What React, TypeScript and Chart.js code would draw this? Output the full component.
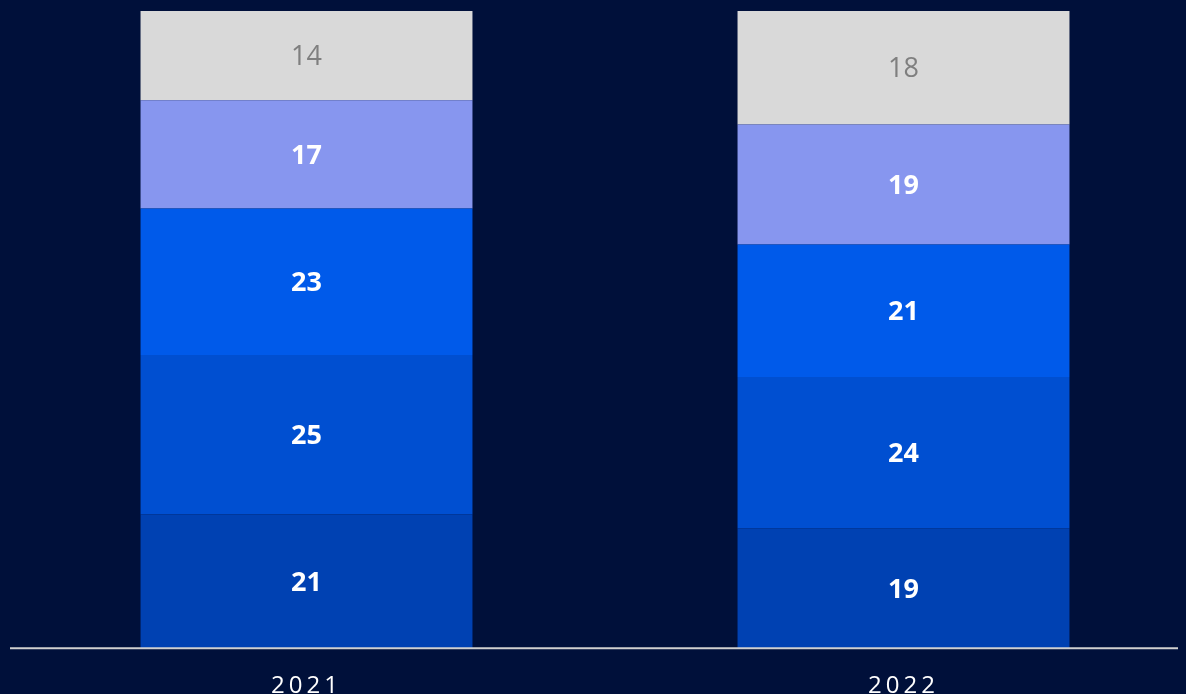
import React, { useEffect, useRef } from "react";
import { Chart, registerables } from "chart.js";

Chart.register(...registerables);

const years = ["2021", "2022"];
const seg1 = [21, 19];
const seg2 = [25, 24];
const seg3 = [23, 21];
const seg4 = [17, 19];
const seg5 = [14, 18];

const segments = [seg1, seg2, seg3, seg4, seg5];
const segColors = ["#0041B2", "#004FD1", "#005AEA", "#8796EF", "#D9D9D9"];
const labelColors = ["#FFFFFF", "#FFFFFF", "#FFFFFF", "#FFFFFF", "#7F7F7F"];
const labelWeights = ["bold", "bold", "bold", "bold", "normal"];

const totals = years.map((_, i) => segments.reduce((s, arr) => s + arr[i], 0));

const labelPlugin = {
  id: "segLabels",
  beforeDraw(chart: any) {
    chart.ctx.letterSpacing = "4px";
  },
  afterDatasetsDraw(chart: any) {
    const ctx = chart.ctx;
    ctx.save();
    ctx.letterSpacing = "0px";
    // axis base line across the full width
    const yb = chart.scales.x.top;
    ctx.strokeStyle = "#D0D0D0";
    ctx.lineWidth = 2;
    ctx.beginPath();
    ctx.moveTo(chart.chartArea.left + 2, yb);
    ctx.lineTo(chart.width, yb);
    ctx.stroke();
    ctx.textAlign = "center";
    ctx.textBaseline = "middle";
    chart.data.datasets.forEach((ds: any, di: number) => {
      const meta = chart.getDatasetMeta(di);
      meta.data.forEach((el: any, i: number) => {
        const raw = segments[di][i];
        ctx.fillStyle = labelColors[di];
        ctx.font = `${labelWeights[di]} 27px "Open Sans"`;
        ctx.fillText(String(raw), el.x, (el.y + el.base) / 2 + 2);
      });
    });
    ctx.restore();
  },
};

export default function App() {
  const ref = useRef<HTMLCanvasElement | null>(null);
  useEffect(() => {
    document.documentElement.style.background = "#00103A";
    document.documentElement.style.overflow = "hidden";
    document.body.style.background = "#00103A";
    const chart = new Chart(ref.current as HTMLCanvasElement, {
      type: "bar",
      data: {
        labels: years,
        datasets: segments.map((arr, di) => ({
          label: "s" + di,
          data: arr.map((v, i) => (v / totals[i]) * 100),
          backgroundColor: segColors[di],
          borderWidth: 0,
          categoryPercentage: 1,
          barPercentage: 0.556,
        })),
      },
      options: {
        animation: false,
        responsive: false,
        maintainAspectRatio: false,
        layout: { padding: { top: 3, left: 0, right: 0, bottom: 0 } },
        plugins: { legend: { display: false }, tooltip: { enabled: false } },
        scales: {
          x: {
            stacked: true,
            grid: { display: false, drawTicks: false },
            border: { display: false },
            ticks: {
              color: "#FFFFFF",
              padding: 24,
              font: { family: "Open Sans", size: 24 },
            },
          },
          y: {
            stacked: true,
            display: false,
            min: 0,
            max: 100,
          },
        },
      },
      plugins: [labelPlugin],
    });
    return () => chart.destroy();
  }, []);
  return (
    <div style={{ width: 1194, height: 686, overflow: "hidden", background: "#00103A" }}>
      <canvas ref={ref} width={1194} height={717} style={{ display: "block" }} />
    </div>
  );
}
